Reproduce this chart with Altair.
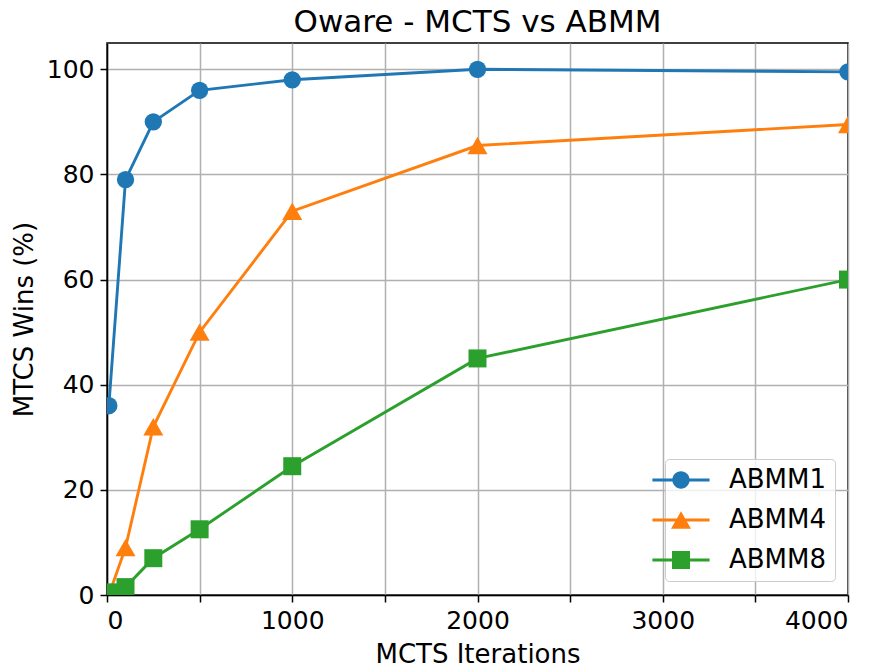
import altair as alt
import pandas as pd

iterations = [10, 100, 250, 500, 1000, 2000, 4000]
abmm1 = [36, 79, 90, 96, 98, 100, 99.5]
abmm4 = [0, 9, 32, 50, 73, 85.5, 89.5]
abmm8 = [0.5, 1.5, 7, 12.5, 24.5, 45, 60]
series_names = ["ABMM1", "ABMM4", "ABMM8"]
colors = ["#1f77b4", "#ff7f0e", "#2ca02c"]
markers = ["circle", "triangle-up", "square"]
marker_sizes = [300, 400, 324]
chart_title = "Oware - MCTS vs ABMM"

rows = []
for name, vals in zip(series_names, [abmm1, abmm4, abmm8]):
    for i, (x, y) in enumerate(zip(iterations, vals)):
        rows.append({"iter": x, "wins": y, "series": name, "order": i})
df = pd.DataFrame(rows)

FONT = "DejaVu Sans"
W, H = 741, 552

bar = "M-3.3,-0.17H3.3V0.17H-3.3Z "
p_circle = bar + "M1,0A1,1 0 1,1 -1,0A1,1 0 1,1 1,0Z"
p_tri = bar + "M0,-1L1.156,1L-1.156,1Z"
p_sq = bar + "M-1.04,-1.04H1.04V1.04H-1.04Z"

x_enc = alt.X(
    "iter:Q",
    scale=alt.Scale(domain=[0, 4000], nice=False, zero=False),
    axis=alt.Axis(
        values=list(range(0, 4001, 500)),
        format="d",
        title="MCTS Iterations",
        titleY=67,
        titleBaseline="alphabetic",
        labelPadding=6,
    ),
)
y_enc = alt.Y(
    "wins:Q",
    scale=alt.Scale(domain=[0, 105], nice=False),
    axis=alt.Axis(
        values=[0, 20, 40, 60, 80, 100],
        title="MTCS Wins (%)",
        titleX=-75,
        titleY=H / 2,
        titleAngle=270,
        titleAlign="center",
        titleBaseline="alphabetic",
        labelPadding=6,
    ),
)

layers = []

legend_cfg = dict(
    title=None,
    orient="none",
    legendX=558,
    legendY=416,
    symbolSize=300,
    symbolStrokeWidth=0,
    symbolOpacity=1,
    symbolOffset=-5,
    labelOffset=35,
    labelFontSize=26,
    labelFont=FONT,
    labelColor="black",
    rowPadding=14,
    padding=8,
    strokeColor="#cccccc",
    fillColor="rgba(255,255,255,0.8)",
    cornerRadius=4,
)

legend_layer = alt.Chart(df).mark_point(filled=True, opacity=0, clip=True, strokeWidth=0).encode(
    x=x_enc,
    y=y_enc,
    color=alt.Color(
        "series:N",
        scale=alt.Scale(domain=series_names, range=colors),
        legend=alt.Legend(**legend_cfg),
    ),
    shape=alt.Shape(
        "series:N",
        scale=alt.Scale(domain=series_names, range=[p_circle, p_tri, p_sq]),
        legend=alt.Legend(**legend_cfg),
    ),
)
layers.append(legend_layer)

for name, col, mk, sz in zip(series_names, colors, markers, marker_sizes):
    base = alt.Chart(df).transform_filter(alt.datum.series == name)
    layers.append(
        base.mark_line(strokeWidth=2.9, clip=True, color=col).encode(
            x=x_enc, y=y_enc, order="order:Q"
        )
    )
    layers.append(
        base.mark_point(
            filled=True, opacity=1, clip=True, strokeWidth=0, color=col, shape=mk, size=sz
        ).encode(x=x_enc, y=y_enc)
    )

title_layer = alt.Chart(pd.DataFrame({"t": [chart_title]})).mark_text(
    font=FONT,
    fontSize=31,
    color="black",
    align="center",
    baseline="alphabetic",
).encode(text="t:N", x=alt.value(W / 2), y=alt.value(-11))
layers.append(title_layer)

chart = (
    alt.layer(*layers)
    .properties(
        width=W,
        height=H,
        autosize=alt.AutoSizeParams(type="none"),
        padding={"left": 99, "top": 35, "right": 30, "bottom": 69},
    )
    .configure_view(stroke="black", strokeWidth=1.5)
    .configure_axis(
        labelFont=FONT,
        labelFontSize=25,
        labelColor="black",
        titleFont=FONT,
        titleFontSize=26,
        titleFontWeight="normal",
        titleColor="black",
        domainColor="black",
        domainWidth=1.5,
        tickColor="black",
        tickWidth=1.5,
        tickSize=7,
        gridColor="#b0b0b0",
        gridWidth=1.5,
    )
    .configure_legend(labelFont=FONT)
)

chart.save("out.html", embed_options={"renderer": "svg", "actions": False})
